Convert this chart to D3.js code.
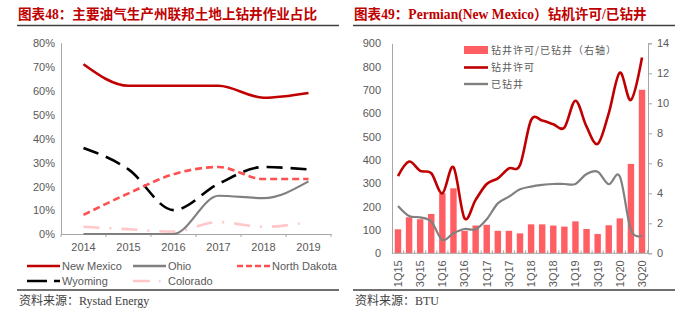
<!DOCTYPE html>
<html>
<head>
<meta charset="utf-8">
<script src="https://cdn.jsdelivr.net/npm/d3@7"></script>
<style>
	body {margin: 0; background: #fff;}
	svg {display: block;}
	.ttl {font-family: "Liberation Serif", "Noto Sans CJK SC", serif; font-weight: bold; font-size: 13.6px; fill: #c00000;}
	.src {font-family: "Liberation Serif", "Noto Sans CJK SC", serif; font-size: 12px; fill: #404040;}
	.ax text {font-family: "Liberation Sans", Arial, sans-serif; font-size: 11px; fill: #595959;}
	.ax path, .ax line {stroke: #a6a6a6;}
	.lg {font-family: "Liberation Sans", Arial, sans-serif; font-size: 11px; fill: #595959;}
	.lgc {font-family: "Noto Sans CJK SC", sans-serif; font-size: 10px; fill: #595959; letter-spacing: 1px;}
</style>
</head>
<body>
<svg width="700" height="323"></svg>
<script>
'use strict';
let eSvg = d3.select("svg")

// left chart: share of federal-land drilling by state
const aYears = ["2014", "2015", "2016", "2017", "2018", "2019"]
const aNewMexico = [71, 62, 62, 62, 57, 59]
const aOhio = [0, 0, 0, 16, 15, 22]
const aNorthDakota = [8, 17, 25, 28, 23, 23]
const aWyoming = [36, 27, 10, 21, 28, 27]
const aColorado = [3, 2, 1, 5, 3, 5]

// right chart: Permian (New Mexico) permits vs drilled wells
const aQuarters = ["1Q15", "2Q15", "3Q15", "4Q15", "1Q16", "2Q16", "3Q16", "4Q16",
	"1Q17", "2Q17", "3Q17", "4Q17", "1Q18", "2Q18", "3Q18", "4Q18",
	"1Q19", "2Q19", "3Q19", "4Q19", "1Q20", "2Q20", "3Q20"]
const aPermits = [331, 393, 353, 343, 257, 369, 150, 229, 297, 321, 364, 378,
	571, 569, 553, 539, 654, 543, 469, 600, 774, 657, 839]
const aDrilled = [203, 160, 154, 136, 57, 86, 104, 103, 146, 214, 243, 274,
	286, 293, 297, 297, 297, 340, 350, 296, 329, 100, 76]
const aRatio = [1.6, 2.4, 2.27, 2.62, 4.0, 4.33, 1.5, 1.85, 1.9, 1.5, 1.5, 1.33,
	1.93, 1.93, 1.85, 1.78, 2.13, 1.62, 1.29, 1.87, 2.33, 5.96, 10.9]

// headers, rules and sources
function header(x0, x1, sTitle, sSource) {
	eSvg.append("text").attr("class", "ttl").attr("x", x0 + 1).attr("y", 19).text(sTitle)
	eSvg.append("line").attr("x1", x0).attr("x2", x1).attr("y1", 25.5).attr("y2", 25.5)
		.attr("stroke", "#404040").attr("stroke-width", 1.3)
	eSvg.append("line").attr("x1", x0).attr("x2", x1).attr("y1", 290).attr("y2", 290)
		.attr("stroke", "#404040").attr("stroke-width", 1.3)
	eSvg.append("text").attr("class", "src").attr("x", x0 + 2).attr("y", 305).text(sSource)
}
header(17, 339, "图表48：主要油气生产州联邦土地上钻井作业占比", "资料来源：Rystad Energy")
header(353, 675, "图表49：Permian(New Mexico）钻机许可/已钻井", "资料来源：BTU")

// ---- left chart
let xL = d3.scaleBand().domain(aYears).range([61, 331])
let yL = d3.scaleLinear().domain([0, 80]).range([234, 42.7])

let gL = eSvg.append("g")
gL.append("g").attr("class", "ax").attr("transform", "translate(61,0)")
	.call(d3.axisLeft(yL).tickValues(d3.range(0, 81, 10)).tickFormat(d => d + "%").tickSize(0).tickPadding(6))
	.call(g => g.selectAll("text").attr("dy", "0.35em"))
gL.append("g").attr("class", "ax").attr("transform", "translate(0,234)")
	.call(d3.axisBottom(xL).tickSize(0).tickPadding(9))
	.call(g => g.selectAll(".tick line").remove())
gL.append("g").selectAll("line").data(d3.range(aYears.length + 1)).join("line")
	.attr("x1", i => 61 + i * xL.step()).attr("x2", i => 61 + i * xL.step())
	.attr("y1", 234).attr("y2", 237).attr("stroke", "#a6a6a6")

let dLeftSeries = [
	{name: "New Mexico", v: aNewMexico, col: "#c00000", w: 2.6, dash: null},
	{name: "Ohio", v: aOhio, col: "#808080", w: 2.2, dash: null},
	{name: "North Dakota", v: aNorthDakota, col: "#ff5050", w: 2.6, dash: "7,4"},
	{name: "Wyoming", v: aWyoming, col: "#000000", w: 2.6, dash: "16,8"},
	{name: "Colorado", v: aColorado, col: "#ffc7c9", w: 2.6, dash: "16,10,2,10"},
]
let lineL = d3.line().x((d, i) => xL(aYears[i]) + xL.bandwidth() / 2).y(d => yL(d))
	.curve(d3.curveMonotoneX)
// draw back-to-front so New Mexico sits on top
gL.append("g").selectAll("path").data(dLeftSeries.slice().reverse()).join("path")
	.attr("d", d => lineL(d.v)).attr("fill", "none")
	.attr("stroke", d => d.col).attr("stroke-width", d => d.w)
	.attr("stroke-dasharray", d => d.dash)

// legend, two rows
let aLegPos = [[27, 266], [133, 266], [237, 266], [27, 281], [133, 281]]
let gLeg = gL.append("g").selectAll("g").data(dLeftSeries).join("g")
	.attr("transform", (d, i) => `translate(${aLegPos[i][0]},${aLegPos[i][1]})`)
gLeg.append("line").attr("x1", 0).attr("x2", 33).attr("stroke", d => d.col)
	.attr("stroke-width", 2.4)
	.attr("stroke-dasharray", d => d.name === "North Dakota" ? "6,3" :
		d.name === "Wyoming" ? "20,7" : d.name === "Colorado" ? "17,9,1.5,9" : null)
gLeg.append("text").attr("class", "lg").attr("x", 35).attr("y", 4).text(d => d.name)

// ---- right chart
let xR = d3.scaleBand().domain(aQuarters).range([392, 648]).paddingInner(0.42).paddingOuter(0.25)
let yR = d3.scaleLinear().domain([0, 900]).range([253.3, 43.3])
let yR2 = d3.scaleLinear().domain([0, 14]).range([253.3, 43.3])

let gR = eSvg.append("g")
gR.append("g").attr("class", "ax").attr("transform", "translate(392,0)")
	.call(d3.axisLeft(yR).tickValues(d3.range(0, 901, 100)).tickSize(0).tickPadding(11))
gR.append("g").attr("class", "ax").attr("transform", "translate(648,0)")
	.call(d3.axisRight(yR2).tickValues(d3.range(0, 15, 2)).tickSize(4).tickPadding(5))

gR.append("g").selectAll("rect").data(aRatio).join("rect")
	.attr("x", (d, i) => xR(aQuarters[i])).attr("width", xR.bandwidth())
	.attr("y", d => yR2(d)).attr("height", d => yR2(0) - yR2(d))
	.attr("fill", "#ff5f63")

let lineR = d3.line().x((d, i) => xR(aQuarters[i]) + xR.bandwidth() / 2).y(d => yR(d))
	.curve(d3.curveCardinal.tension(0))
gR.append("path").attr("d", lineR(aDrilled)).attr("fill", "none")
	.attr("stroke", "#808080").attr("stroke-width", 2.2)
gR.append("path").attr("d", lineR(aPermits)).attr("fill", "none")
	.attr("stroke", "#c00000").attr("stroke-width", 2.6)

// bottom axis with rotated quarter labels, every second one shown
let gXR = gR.append("g").attr("class", "ax").attr("transform", "translate(0,253.3)")
	.call(d3.axisBottom(xR).tickSize(0).tickValues(aQuarters.filter((d, i) => i % 2 === 0)))
gXR.selectAll("text").attr("transform", "rotate(-90)").attr("text-anchor", "end")
	.attr("x", -7).attr("y", 0).attr("dy", "0.35em")
gXR.select(".domain").attr("d", "M392,0H648")
gR.append("g").selectAll("line").data(d3.range(aQuarters.length + 1)).join("line")
	.attr("x1", i => 392 + (i + 0.04) * xR.step()).attr("x2", i => 392 + (i + 0.04) * xR.step())
	.attr("y1", 253.3).attr("y2", 250.3).attr("stroke", "#a6a6a6")

// legend
gR.append("rect").attr("x", 464).attr("y", 46).attr("width", 24).attr("height", 8).attr("fill", "#ff5f63")
gR.append("text").attr("class", "lgc").attr("x", 491).attr("y", 54).text("钻井许可/已钻井（右轴）")
gR.append("line").attr("x1", 464).attr("x2", 488).attr("y1", 67.5).attr("y2", 67.5)
	.attr("stroke", "#c00000").attr("stroke-width", 2.6)
gR.append("text").attr("class", "lgc").attr("x", 491).attr("y", 71).text("钻井许可")
gR.append("line").attr("x1", 464).attr("x2", 488).attr("y1", 84).attr("y2", 84)
	.attr("stroke", "#808080").attr("stroke-width", 2.4)
gR.append("text").attr("class", "lgc").attr("x", 491).attr("y", 88).text("已钻井")
</script>
</body>
</html>
